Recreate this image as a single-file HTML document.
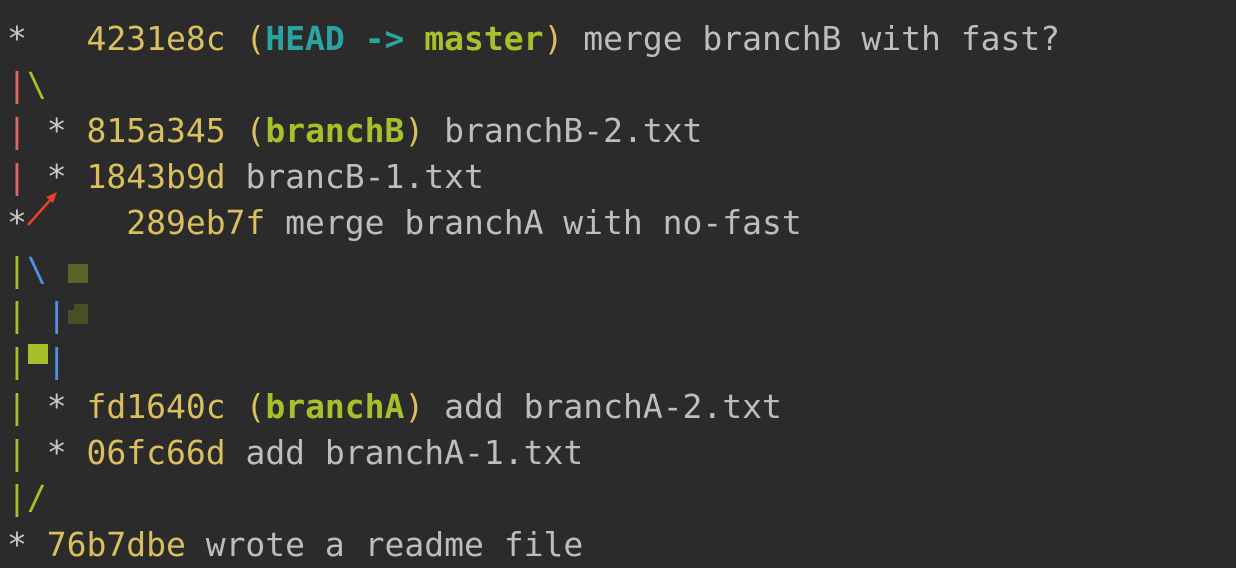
<!DOCTYPE html>
<html><head><style>
html,body{margin:0;padding:0;background:#2b2b2b;width:1236px;height:564px;overflow:hidden;}
.l{position:absolute;left:7px;height:46px;line-height:46px;font-family:"DejaVu Sans Mono","Liberation Mono",monospace;font-size:33px;white-space:pre;color:#bdbdbd;}
.y{color:#d9bf5e}.g{color:#a6c02a;font-weight:bold}.gn{color:#a6c02a}.t{color:#2aa3a3;font-weight:bold}
.r{color:#e06666}.b{color:#4f93e6}.s{color:#c8c8c8}
.sq{position:absolute}
</style></head><body>
<div class="l" style="top:16px"><span class="s">*</span>   <span class="y">4231e8c</span> <span class="y">(</span><span class="t">HEAD -&gt; </span><span class="g">master</span><span class="y">)</span> merge branchB with fast?</div>
<div class="l" style="top:62px"><span class="r">|</span><span class="gn">\</span></div>
<div class="l" style="top:108px"><span class="r">|</span> <span class="s">*</span> <span class="y">815a345</span> <span class="y">(</span><span class="g">branchB</span><span class="y">)</span> branchB-2.txt</div>
<div class="l" style="top:154px"><span class="r">|</span> <span class="s">*</span> <span class="y">1843b9d</span> brancB-1.txt</div>
<div class="l" style="top:200px"><span class="s">*</span>     <span class="y">289eb7f</span> merge branchA with no-fast</div>
<div class="l" style="top:247px"><span class="gn">|</span><span class="b">\</span></div>
<div class="l" style="top:292px"><span class="gn">|</span> <span class="b">|</span></div>
<div class="l" style="top:338px"><span class="gn">|</span> <span class="b">|</span></div>
<div class="l" style="top:384px"><span class="gn">|</span> <span class="s">*</span> <span class="y">fd1640c</span> <span class="y">(</span><span class="g">branchA</span><span class="y">)</span> add branchA-2.txt</div>
<div class="l" style="top:430px"><span class="gn">|</span> <span class="s">*</span> <span class="y">06fc66d</span> add branchA-1.txt</div>
<div class="l" style="top:475px"><span class="gn">|</span><span class="gn">/</span></div>
<div class="l" style="top:522px"><span class="s">*</span> <span class="y">76b7dbe</span> wrote a readme file</div>
<div class="sq" style="left:68px;top:264px;width:20px;height:19px;background:#5a6228;"></div>
<div class="sq" style="left:68px;top:304px;width:20px;height:20px;background:#4a4f27;"></div>
<div class="sq" style="left:68px;top:304px;width:6px;height:6px;background:#2b2b2b;"></div>
<div class="sq" style="left:28px;top:344px;width:20px;height:20px;background:#a6c02a;"></div>
<svg style="position:absolute;left:0;top:0" width="1236" height="564">
<line x1="28" y1="225" x2="52" y2="198" stroke="#e8402a" stroke-width="2.5"/>
<polygon points="57,192 46,197 53,203" fill="#e8402a"/>
</svg>
</body></html>
